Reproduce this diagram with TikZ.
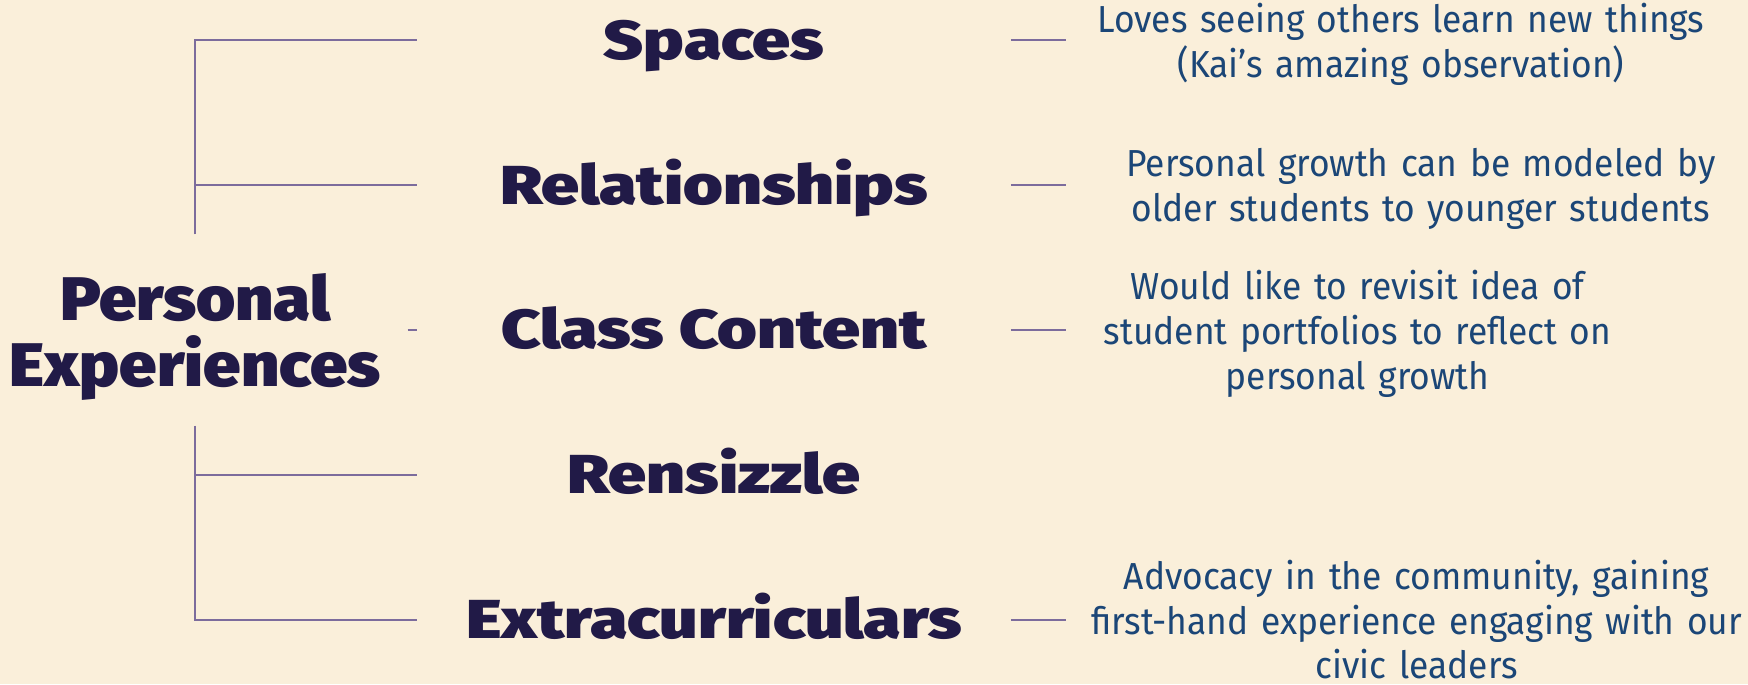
\documentclass[tikz,border=0pt]{standalone}
\usepackage{fontspec}
\usepackage{xcolor}
\setmainfont{Fira Sans}
\newfontfamily\heavyfont{Fira Sans Black}[FakeStretch=1.09]
\newfontfamily\topicfont{Fira Sans Black}[FakeStretch=1.24]
\newfontfamily\notefont{Fira Sans}[FakeStretch=0.94]
\definecolor{cream}{HTML}{FAEFDA}
\definecolor{ink}{HTML}{211A47}
\definecolor{noteblue}{HTML}{1B4677}
\definecolor{rule}{HTML}{7C6C9C}

\begin{document}
\begin{tikzpicture}[
		topic/.style={font=\topicfont\fontsize{14}{16}\selectfont,text=ink,inner sep=0,minimum width=5.31cm,text height=9.7pt,text depth=0pt},
		note/.style={font=\notefont\fontsize{9.6}{11.4}\selectfont,text=noteblue,inner sep=0,align=center,anchor=west},
		link/.style={draw=rule,line width=0.6pt}]
		\path[fill=cream,use as bounding box] (0,0) rectangle (15.68,6.14);
		\path (1.75,3.18) node(root)[font=\heavyfont\fontsize{15.7}{16.8}\selectfont,text=ink,align=center,inner sep=0,text depth=0pt,minimum height=1.7cm,minimum width=3.8cm]{Personal\\Experiences}
		(6.405,5.78) node(spaces)[topic]{Spaces}
		(6.405,4.48) node(rel)[topic]{Relationships}
		(6.405,3.18) node(cls)[topic]{Class Content}
		(6.405,1.88) node(ren)[topic]{Rensizzle}
		(6.405,0.58) node(extra)[topic]{Extracurriculars}
		(9.56,5.745) node(noteA)[note,text width=6.0cm]{Loves seeing others learn new things\\(Kai’s amazing observation)}
		(9.56,4.445) node(noteB)[note,text width=6.36cm]{Personal growth can be modeled by\\older students to younger students}
		(9.56,3.145) node(noteC)[note,text width=5.22cm]{Would like to revisit idea of\\student portfolios to reflect on\\personal growth}
		(9.56,0.58) node(noteD)[note,text width=6.28cm]{Advocacy in the community, gaining\\first-hand experience engaging with our\\civic leaders};
		\draw [link] (root.north) |- (spaces.west);
		\draw [link] (root.north |- rel.west) -- (rel.west);
		\draw [link] (root.east |- cls.west) -- (cls.west);
		\draw [link] (root.south |- ren.west) -- (ren.west);
		\draw [link] (root.south) |- (extra.west);
		\draw [link] (spaces.east) -- (noteA.west |- spaces.east);
		\draw [link] (rel.east) -- (noteB.west |- rel.east);
		\draw [link] (cls.east) -- (noteC.west |- cls.east);
		\draw [link] (extra.east) -- (noteD.west |- extra.east);
	\end{tikzpicture}
\end{document}
